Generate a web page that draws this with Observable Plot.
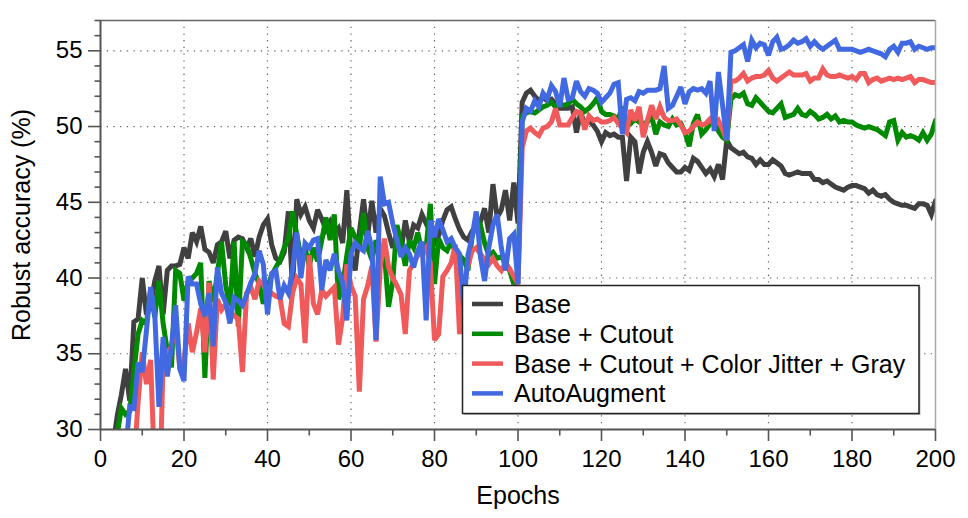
<!DOCTYPE html>
<html>
<head>
<meta charset="utf-8">
<script src="https://cdn.jsdelivr.net/npm/d3@7"></script>
<script src="https://cdn.jsdelivr.net/npm/@observablehq/plot@0.6"></script>
<style>
  html, body { margin: 0; padding: 0; background: #fff; }
  #wrap { position: relative; width: 968px; height: 518px; font-family: "Liberation Sans", Arial, Helvetica, sans-serif; }
  #legend { position: absolute; left: 0; top: 0; pointer-events: none; }
</style>
</head>
<body>
<div id="wrap"></div>
<script>
// ---------------- data (epochs 1..200) ----------------
const epochs = d3.range(1, 201);

const seriesNames = ["Base", "Base + Cutout", "Base + Cutout + Color Jitter + Gray", "AutoAugment"];
const seriesColors = ["#404040", "#008a00", "#f05a5a", "#4169e1"];

const base = [
  null, null, 28.9, 30.9, 32.3, 34.0, 31.9, 37.1, 37.3, 40.0,
  37.6, 38.2, 39.8, 40.8, 37.6, 40.5, 40.8, 40.8, 40.9, 42.0,
  41.3, 43.0, 42.4, 43.4, 41.9, 41.7, 41.0, 42.2, 42.4, 43.1,
  41.3, 42.5, 42.7, 42.6, 42.0, 42.6, 41.4, 42.7, 43.5, 43.9,
  42.2, 41.3, 41.1, 41.7, 44.4, 39.3, 45.2, 44.2, 44.7, 43.8,
  43.3, 44.5, 43.9, 43.2, 43.7, 43.0, 43.3, 42.3, 45.8, 41.5,
  40.5, 43.0, 45.2, 42.8, 45.1, 43.0, 44.6, 44.1, 43.0, 42.0,
  42.9, 41.8, 43.8, 42.4, 43.5, 43.3, 44.2, 43.6, 43.0, 42.3,
  42.8, 43.8, 44.5, 44.7, 43.9, 43.2, 42.7, 42.5, 43.1, 43.3,
  43.7, 44.6, 43.0, 46.2, 44.0, 44.5, 45.8, 43.8, 46.3, 43.6,
  51.6, 52.2, 52.4, 52.0, 51.7, 51.9, 51.7, 51.8, 51.5, 51.2,
  51.2, 51.2, 51.3, 49.6, 50.9, 50.2, 50.4, 50.1, 49.7, 49.0,
  49.6, 49.4, 49.5, 49.3, 49.3, 46.4, 49.3, 49.0, 46.9, 48.3,
  49.0, 48.3, 47.4, 48.2, 48.1, 47.6, 47.3, 47.0, 47.0, 47.3,
  47.1, 47.9, 47.7, 47.3, 46.9, 47.2, 46.7, 47.5, 46.5, 49.1,
  48.6, 48.4, 48.2, 48.3, 48.0, 47.9, 47.5, 47.8, 47.5, 47.5,
  47.8, 47.6, 47.4, 46.9, 46.8, 46.9, 47.0, 46.9, 46.9, 46.9,
  46.5, 46.5, 46.3, 46.4, 46.2, 46.0, 45.9, 45.8, 46.0, 46.1,
  46.1, 46.0, 45.9, 45.6, 45.8, 45.5, 45.4, 45.5, 45.2, 45.0,
  44.9, 44.8, 44.8, 44.7, 44.6, 44.9, 44.9, 44.8, 44.2, 45.1
];

const cutout = [
  null, null, null, 29.7, 31.4, 31.0, 31.2, 33.8, 36.3, 37.2,
  37.0, 39.2, 37.4, 39.8, 37.0, 35.2, 34.1, 40.5, 40.3, 38.5,
  39.8, 40.0, 40.3, 41.0, 33.4, 39.8, 38.4, 40.3, 42.4, 39.5,
  38.0, 42.4, 36.8, 42.4, 42.2, 41.3, 40.3, 39.6, 38.3, 39.4,
  40.2, 40.7, 41.2, 42.0, 42.6, 44.4, 42.9, 41.4, 42.0, 40.8,
  42.0, 41.1, 42.5, 44.0, 42.5, 44.2, 38.6, 39.5, 41.5, 43.3,
  42.7, 42.0, 44.3, 42.0, 41.2, 42.5, 41.0, 41.6, 38.1, 39.8,
  43.5, 42.3, 40.8, 42.5, 42.0, 43.0, 41.7, 42.0, 44.9, 39.6,
  42.6, 42.0, 41.8, 42.4, 41.7, 41.5, 41.2, 40.5, 42.7, 43.9,
  43.5, 42.3, 41.5, 41.7, 41.3, 41.4, 41.0, 40.5, 39.6, 40.3,
  50.7, 50.9, 51.0, 50.9, 51.1, 51.3, 51.4, 51.6, 51.3, 51.5,
  51.4, 51.5, 51.8, 51.5, 51.3, 51.0, 51.2, 51.5, 51.9, 51.0,
  50.8, 50.8, 50.7, 50.5, 51.3, 50.3, 50.2, 50.5, 50.3, 50.2,
  50.3, 50.7, 49.5, 50.3, 50.1, 50.0, 50.5, 50.1, 50.2, 49.6,
  48.7, 50.2, 50.8, 49.5, 49.8, 50.2, 50.5, 49.7, 49.3, 49.1,
  51.8, 52.1, 52.0, 52.2, 51.5, 51.4, 51.9, 51.6, 51.3, 51.0,
  50.9, 51.2, 51.5, 50.6, 50.7, 50.8, 51.2, 50.8, 50.7, 51.0,
  50.8, 50.5, 50.6, 50.8, 50.5, 50.7, 50.3, 50.4, 50.3, 50.3,
  50.1, 50.0, 49.9, 50.0, 49.9, 49.8, 49.6, 49.4, 50.3, 50.4,
  49.1, 49.6, 49.3, 49.4, 49.3, 49.1, 49.6, 49.1, 49.5, 50.4
];

const cutoutJitterGray = [
  null, null, null, null, null, null, null, 27.7, 31.8, 35.1,
  33.0, 34.6, 27.0, 24.0, 34.5, 35.0, 35.5, 37.0, 34.0, 34.5,
  37.0, 35.1, 36.4, 38.0, 35.1, 39.7, 33.3, 38.6, 37.9, 38.3,
  37.8, 37.5, 37.3, 33.8, 39.0, 39.4, 38.6, 39.8, 39.6, 39.2,
  39.0, 38.8, 38.7, 37.0, 36.8, 39.0, 40.0, 39.6, 35.7, 41.5,
  38.3, 37.6, 39.2, 38.8, 39.1, 39.4, 35.6, 37.4, 40.9, 39.5,
  38.8, 32.5, 38.6, 39.5, 40.8, 35.8, 40.7, 42.6, 40.7, 40.0,
  39.5, 38.9, 36.3, 40.5, 41.0, 41.5, 41.6, 42.0, 41.0, 35.9,
  36.3, 40.1, 40.5, 41.0, 42.2, 36.3, 39.5, 40.8, 41.8, 42.0,
  41.6, 41.2, 40.9, 41.3, 40.8, 40.5, 41.0, 40.6, 40.1, 39.6,
  48.6, 49.7, 49.9, 49.6, 49.4, 49.9, 50.0, 50.3, 51.2, 50.1,
  50.1, 50.1, 50.6, 51.0, 50.9, 49.8, 50.7, 50.4, 50.5, 50.3,
  50.3, 50.4, 50.6, 50.2, 49.9, 49.6, 51.1, 50.4, 51.3, 49.3,
  50.4, 51.4, 50.5, 51.3, 50.6, 50.4, 50.4, 50.5, 50.1, 49.6,
  49.7, 50.0, 50.3, 50.1, 50.2, 50.5, 50.1, 50.4, 49.8, 49.1,
  53.0, 53.0, 53.2, 53.5, 53.0, 53.2, 53.3, 53.3, 53.4, 53.7,
  53.2, 53.0, 53.2, 53.4, 53.6, 53.4, 53.4, 53.4, 53.5, 53.0,
  53.2, 53.2, 53.8, 53.4, 53.3, 53.3, 53.4, 53.3, 53.2, 53.3,
  53.1, 53.5, 53.5, 52.9, 53.1, 53.2, 53.0, 53.1, 53.2, 53.1,
  53.2, 53.1, 53.2, 53.3, 52.9, 53.1, 53.1, 53.0, 52.9, 52.9
];

const autoAugment = [
  null, null, null, null, null, 28.5, 31.5, 31.4, 34.4, 33.8,
  36.5, 39.4, 37.6, 31.5, 36.1, 33.5, 35.5, 38.2, 34.0, 33.2,
  40.1, 39.6, 39.6, 38.3, 37.5, 39.0, 35.5, 40.7, 39.0, 38.4,
  37.0, 38.7, 38.5, 38.2, 38.9, 39.7, 40.3, 41.8, 40.9, 37.6,
  40.3, 40.5, 38.6, 39.5, 39.0, 40.5, 43.0, 40.0, 42.3, 42.0,
  42.5, 42.6, 39.2, 41.2, 40.5, 41.6, 40.5, 39.7, 37.2, 41.6,
  42.3, 42.0, 41.8, 43.1, 42.0, 35.9, 46.7, 44.9, 45.0, 43.6,
  42.5, 41.4, 42.0, 41.6, 40.7, 41.8, 42.4, 37.2, 43.8, 42.7,
  43.9, 43.2, 42.4, 42.6, 42.0, 41.6, 38.1, 41.5, 42.7, 44.4,
  41.4, 39.8, 42.0, 43.5, 44.2, 42.0, 40.5, 42.6, 42.9, 39.6,
  50.3, 51.2, 51.0, 51.7, 51.3, 52.2, 51.8, 52.7, 52.3, 51.3,
  53.2, 51.8, 51.9, 53.0, 52.3, 52.0, 52.5, 52.4, 52.2, 51.6,
  51.9, 52.2, 52.8, 52.9, 49.5, 51.8, 51.9, 51.7, 52.3, 52.2,
  52.4, 52.4, 52.4, 52.5, 54.0, 51.2, 51.4, 52.0, 52.6, 51.5,
  52.3, 52.5, 52.4, 52.5, 52.2, 53.0, 49.7, 53.6, 51.4, 49.1,
  54.9, 55.0, 55.2, 55.4, 54.3, 55.7, 55.2, 55.5, 55.4, 54.7,
  55.6, 55.9, 55.1, 55.2, 55.4, 55.7, 55.5, 55.6, 55.8, 55.3,
  55.6, 55.3, 55.1, 55.3, 55.5, 55.7, 55.1, 55.1, 55.1, 55.1,
  55.0, 54.9, 55.0, 55.1, 55.0, 54.9, 54.8, 54.6, 55.1, 55.3,
  54.9, 55.5, 55.5, 55.6, 55.1, 55.3, 55.2, 55.1, 55.2, 55.2
];

const xMajorTicks = [0, 20, 40, 60, 80, 100, 120, 140, 160, 180, 200];
const xMinorTicks = [10, 30, 50, 70, 90, 110, 130, 150, 170, 190];
const xGridTicks = [20, 40, 60, 80, 100, 120, 140, 160, 180];
const yMajorTicks = [30, 35, 40, 45, 50, 55];
const yMinorTicks = [31, 32, 33, 34, 36, 37, 38, 39, 41, 42, 43, 44, 46, 47, 48, 49, 51, 52, 53, 54, 56, 57];
const yGridTicks = [35, 40, 45, 50, 55];

const xLabel = "Epochs";
const yLabel = "Robust accuracy (%)";

// ---------------- build ----------------
const allSeries = [base, cutout, cutoutJitterGray, autoAugment];
const tables = allSeries.map(vals => epochs.map((e, i) => ({epoch: e, value: vals[i]})));

const axisStroke = "#555";
const font = "'Liberation Sans', Arial, Helvetica, sans-serif";

const chart = Plot.plot({
  width: 968,
  height: 518,
  marginLeft: 100,
  marginRight: 33,
  marginTop: 20,
  marginBottom: 89,
  style: {fontFamily: font, background: "white", overflow: "visible"},
  x: {domain: [0, 200], label: null},
  y: {domain: [30, 57], label: null},
  marks: [
    Plot.gridX(xGridTicks, {stroke: "#666", strokeOpacity: 1, strokeWidth: 1.2, strokeDasharray: "1.3,5.4"}),
    Plot.gridY(yGridTicks, {stroke: "#666", strokeOpacity: 1, strokeWidth: 1.2, strokeDasharray: "1.3,5.4"}),
    ...tables.map((t, k) => Plot.line(t, {
      x: "epoch", y: "value",
      stroke: seriesColors[k], strokeWidth: 5,
      strokeLinejoin: "miter", strokeMiterlimit: 3,
      clip: true
    })),
    Plot.ruleY([57], {stroke: "#666", strokeWidth: 1.5}),
    Plot.ruleX([200], {stroke: "#aaa", strokeWidth: 1.5}),
    Plot.ruleX([0], {stroke: axisStroke, strokeWidth: 2}),
    Plot.ruleY([30], {stroke: axisStroke, strokeWidth: 2}),
    Plot.axisX(xMinorTicks, {tickSize: 6.5, tickFormat: () => "", stroke: axisStroke, strokeWidth: 1.6, label: null}),
    Plot.axisX(xMajorTicks, {tickSize: 12, tickPadding: 8, fontSize: 24, stroke: axisStroke, fill: "black", strokeWidth: 1.6, label: null}),
    Plot.axisY(yMinorTicks, {tickSize: 5.5, tickFormat: () => "", stroke: axisStroke, strokeWidth: 1.6, label: null}),
    Plot.axisY(yMajorTicks, {tickSize: 12, tickPadding: 6, fontSize: 24, stroke: axisStroke, fill: "black", strokeWidth: 1.6, label: null}),
    Plot.text([xLabel], {frameAnchor: "bottom", dy: 66, fontSize: 25, fill: "black", textAnchor: "middle", lineAnchor: "middle"}),
    Plot.text([yLabel], {frameAnchor: "left", dx: -79, rotate: -90, fontSize: 25, fill: "black", textAnchor: "middle", lineAnchor: "middle"})
  ]
});

const wrap = document.getElementById("wrap");
wrap.appendChild(chart);

// ---------------- legend (overlay) ----------------
const leg = d3.select(wrap).append("svg")
  .attr("id", "legend")
  .attr("width", 968).attr("height", 518);
const lx = 462.5, ly = 285.5, lw = 456.5, lh = 128;
leg.append("rect").attr("x", lx + 1.5).attr("y", ly + 1.5).attr("width", lw).attr("height", lh)
  .attr("fill", "#bbb");
leg.append("rect").attr("x", lx).attr("y", ly).attr("width", lw).attr("height", lh)
  .attr("fill", "white").attr("stroke", "#222").attr("stroke-width", 1.5);
seriesNames.forEach((name, k) => {
  const cy = 304 + k * 29.8;
  leg.append("line").attr("x1", 472).attr("x2", 503).attr("y1", cy).attr("y2", cy)
    .attr("stroke", seriesColors[k]).attr("stroke-width", 4.5);
  leg.append("text").attr("x", 514).attr("y", cy + 9)
    .attr("font-family", font).attr("font-size", 25).attr("fill", "black")
    .text(name);
});
</script>
</body>
</html>
